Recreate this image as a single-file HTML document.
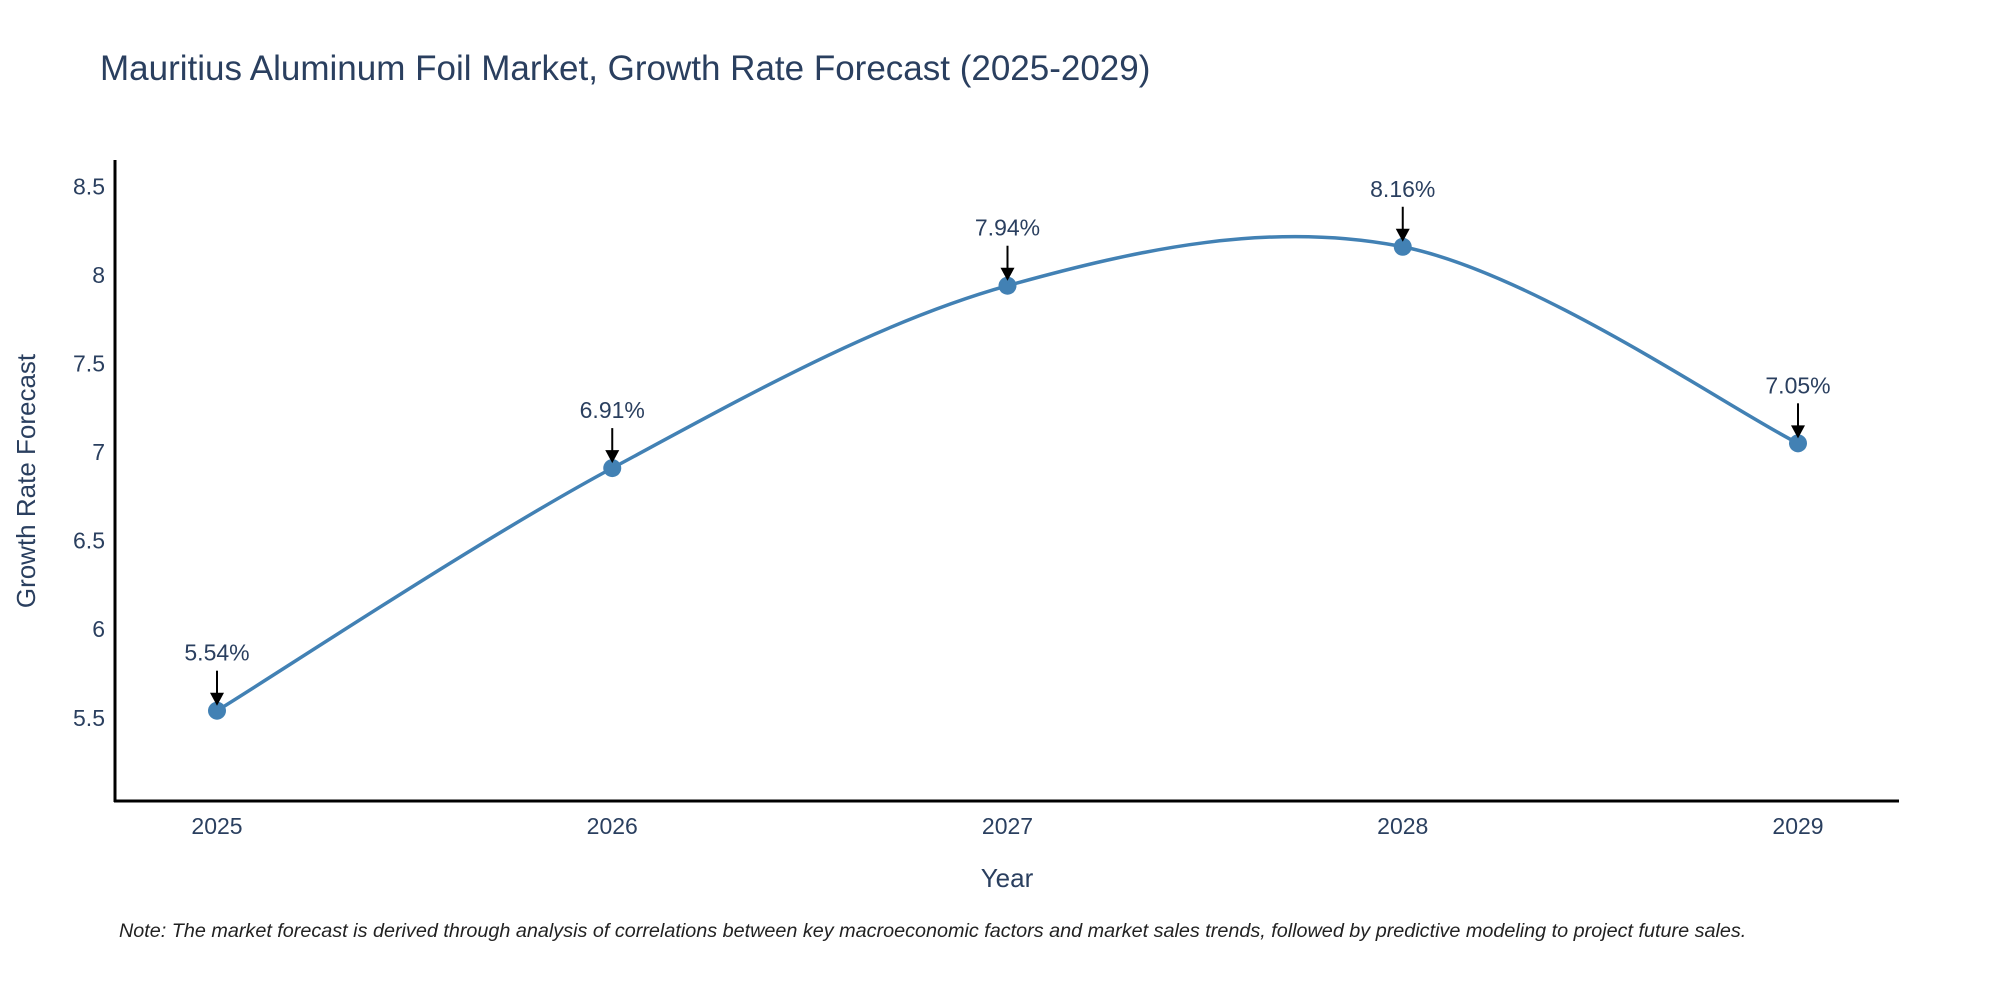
<!DOCTYPE html>
<html><head><meta charset="utf-8"><style>
body{margin:0;background:#fff;}
svg text{font-family:"Liberation Sans","DejaVu Sans",sans-serif;}
</style></head><body>
<svg id="chart" width="2000" height="1000" xmlns="http://www.w3.org/2000/svg">
<text x="100" y="80" font-size="35" fill="#2a3f5f">Mauritius Aluminum Foil Market, Growth Rate Forecast (2025-2029)</text>
<g id="yticks"></g>
<g id="xticks"></g>
<line x1="115" y1="160" x2="115" y2="802" stroke="#000" stroke-width="3"/>
<line x1="114" y1="801" x2="1899" y2="801" stroke="#000" stroke-width="3"/>
<path id="line" fill="none" stroke="#4281b4" stroke-width="3.5"/>
<g id="points"></g>
<g id="annots"></g>
<text x="0" y="0" transform="translate(35,481) rotate(-90)" text-anchor="middle" font-size="26" fill="#2a3f5f">Growth Rate Forecast</text>
<text x="1007" y="887" text-anchor="middle" font-size="26" fill="#2a3f5f">Year</text>
<text x="119" y="937" font-size="19.8" font-style="italic" fill="#222">Note: The market forecast is derived through analysis of correlations between key macroeconomic factors and market sales trends, followed by predictive modeling to project future sales.</text>
</svg>
<script>
const years = ["2025","2026","2027","2028","2029"];
const values = [5.54, 6.91, 7.94, 8.16, 7.05];
const labels = ["5.54%","6.91%","7.94%","8.16%","7.05%"];
const yTicks = [5.5, 6, 6.5, 7, 7.5, 8, 8.5];
const yTickLabels = ["5.5","6","6.5","7","7.5","8","8.5"];
const NS="http://www.w3.org/2000/svg";
const x0=217,x1=1798,yMin=5.03,yMax=8.65,pyTop=160,pyBot=801;
function xs(i){return x0+(x1-x0)*i/(years.length-1);}
function ys(v){return pyBot-(v-yMin)/(yMax-yMin)*(pyBot-pyTop);}
function mk(tag,attrs,parent){const e=document.createElementNS(NS,tag);for(const k in attrs)e.setAttribute(k,attrs[k]);parent.appendChild(e);return e;}
const yt=document.getElementById('yticks');
yTicks.forEach((t,i)=>{const e=mk('text',{x:105,y:ys(t)+8,'text-anchor':'end','font-size':23,fill:'#2a3f5f'},yt);e.textContent=yTickLabels[i];

});
const xt=document.getElementById('xticks');
years.forEach((y,i)=>{const e=mk('text',{x:xs(i),y:834,'text-anchor':'middle','font-size':23,fill:'#2a3f5f'},xt);e.textContent=y;

});
const P=values.map((v,i)=>[xs(i),ys(v)]);
let d=`M${P[0][0]},${P[0][1]}`;const s=1/6;
for(let i=0;i<P.length-1;i++){const p0=P[Math.max(0,i-1)],p1=P[i],p2=P[i+1],p3=P[Math.min(P.length-1,i+2)];
d+=` C${p1[0]+(p2[0]-p0[0])*s},${p1[1]+(p2[1]-p0[1])*s} ${p2[0]-(p3[0]-p1[0])*s},${p2[1]-(p3[1]-p1[1])*s} ${p2[0]},${p2[1]}`;}
document.getElementById('line').setAttribute('d',d);
const pts=document.getElementById('points'),an=document.getElementById('annots');
P.forEach((p,i)=>{const c=mk('circle',{cx:p[0],cy:p[1],r:9,fill:'#4281b4'},pts);


const l=mk('line',{x1:p[0],y1:p[1]-40,x2:p[0],y2:p[1]-16,stroke:'#000','stroke-width':2},an);


const h=mk('polygon',{points:`${p[0]-7},${p[1]-18} ${p[0]+7},${p[1]-18} ${p[0]},${p[1]-5}`,fill:'#000'},an);


const t=mk('text',{x:p[0],y:p[1]-50,'text-anchor':'middle','font-size':23,fill:'#2a3f5f'},an);t.textContent=labels[i];

});
</script>
</body></html>
